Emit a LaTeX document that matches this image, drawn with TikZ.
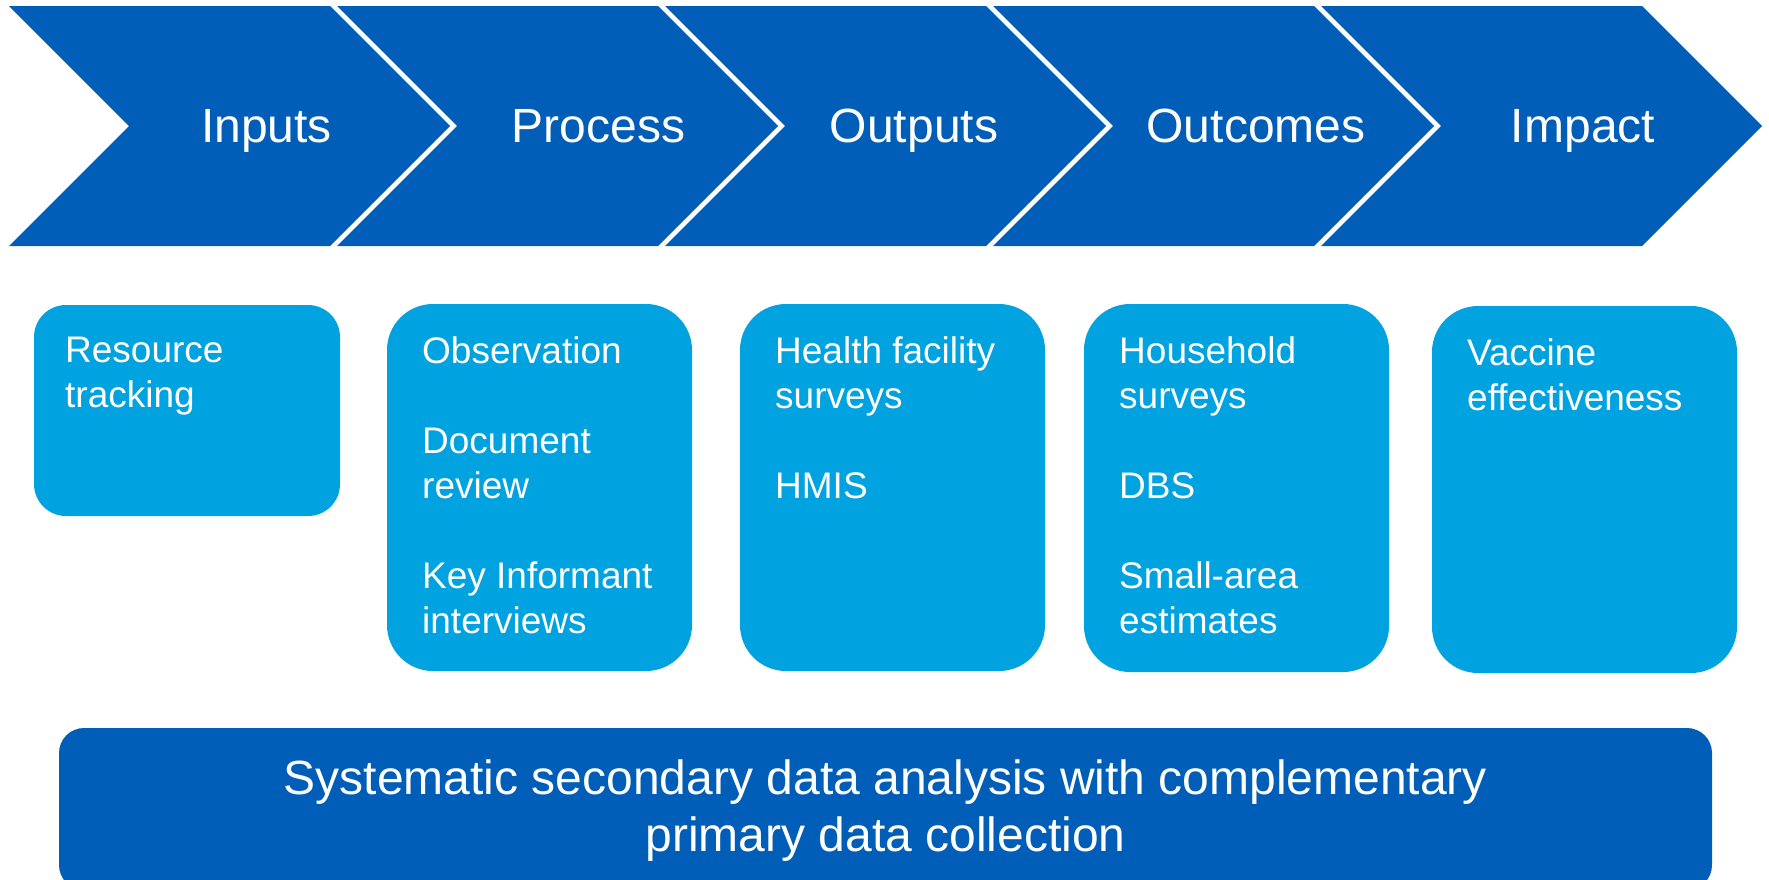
\documentclass[tikz,border=0pt]{standalone}
\usepackage{fontspec}
\setmainfont{Liberation Sans}
\definecolor{cblue}{RGB}{0,94,184}
\definecolor{clight}{RGB}{0,162,223}
\begin{document}
\begin{tikzpicture}[x=1pt,y=-1pt,
  chev/.style={fill=cblue,draw=none},
  chevlbl/.style={text=white,inner sep=0pt,anchor=base,font=\fontsize{48}{57.5}\selectfont},
  lbox/.style={fill=clight,draw=none,rounded corners=46pt,inner sep=0pt},
  btxt/.style={text=white,inner sep=0pt,anchor=north west,align=left,font=\fontsize{37}{45}\selectfont},
  bigbox/.style={fill=cblue,draw=none,rounded corners=25pt,inner sep=0pt}]
\useasboundingbox (0,0) rectangle (1769,879);
% chevrons
\foreach \i in {0,...,4}{
  \pgfmathsetmacro{\xl}{9+328*\i}
  \pgfmathsetmacro{\xr}{\xl+321}
  \fill[chev] (\xl,6) -- (\xr,6) -- (\xr+120,126) -- (\xr,246) -- (\xl,246) -- (\xl+120,126) -- cycle;
}
\node[chevlbl] (inputs) at (266.5,142) {Inputs};
\node[chevlbl] (process) at (598.5,142) {Process};
\node[chevlbl] (outputs) at (914,142) {Outputs};
\node[chevlbl] (outcomes) at (1256,142) {Outcomes};
\node[chevlbl] (impact) at (1583,142) {Impact};
% boxes
\node[lbox,rounded corners=32pt,minimum width=306pt,minimum height=211pt] (b1) at (187,410.5) {};
\node[lbox,minimum width=305pt,minimum height=367pt] (b2) at (539.5,487.5) {};
\node[lbox,minimum width=305pt,minimum height=367pt] (b3) at (892.5,487.5) {};
\node[lbox,minimum width=305pt,minimum height=368pt] (b4) at (1236.5,488) {};
\node[lbox,minimum width=305pt,minimum height=367pt] (b5) at (1584.5,489.5) {};
\node[btxt] (t1) at (65,332) {\rule{0pt}{30pt}Resource\\tracking};
\node[btxt] (t2) at (422,333) {\rule{0pt}{30pt}Observation\\[45pt]Document\\review\\[45pt]Key Informant\\interviews};
\node[btxt] (t3) at (775,333) {\rule{0pt}{30pt}Health facility\\surveys\\[45pt]HMIS};
\node[btxt] (t4) at (1119,333) {\rule{0pt}{30pt}Household\\surveys\\[45pt]DBS\\[45pt]Small-area\\estimates};
\node[btxt] (t5) at (1467,335) {\rule{0pt}{30pt}Vaccine\\effectiveness};
% bottom box
\node[bigbox,minimum width=1653pt,minimum height=162pt] (bottom) at (885.5,809) {};
\node[text=white,inner sep=0pt,anchor=north,align=center,font=\fontsize{48}{57.5}\selectfont] (btext) at (885.5,754) {\rule{0pt}{40pt}Systematic secondary data analysis with complementary\\primary data collection};
\end{tikzpicture}
\end{document}
